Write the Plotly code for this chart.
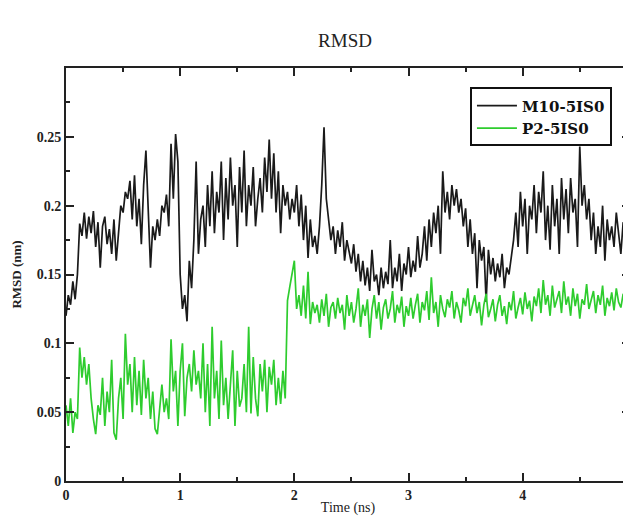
import plotly.graph_objects as go

dt = 0.02
m10_rmsd = [
    0.120, 0.135, 0.128, 0.145, 0.132, 0.150, 0.187, 0.178, 0.195, 0.176,
    0.192, 0.180, 0.196, 0.170, 0.188, 0.155, 0.185, 0.192, 0.172, 0.183,
    0.165, 0.190, 0.160, 0.178, 0.200, 0.195, 0.210, 0.205, 0.218, 0.190,
    0.222, 0.185, 0.205, 0.172, 0.215, 0.240, 0.200, 0.155, 0.185, 0.175,
    0.190, 0.178, 0.200, 0.195, 0.208, 0.185, 0.245, 0.205, 0.252, 0.232,
    0.150, 0.125, 0.135, 0.116, 0.160, 0.140, 0.175, 0.232, 0.165, 0.190,
    0.200, 0.170, 0.215, 0.185, 0.225, 0.180, 0.210, 0.195, 0.232, 0.175,
    0.220, 0.190, 0.235, 0.200, 0.215, 0.170, 0.228, 0.195, 0.240, 0.185,
    0.215, 0.200, 0.228, 0.185, 0.205, 0.220, 0.195, 0.235, 0.210, 0.248,
    0.205, 0.238, 0.195, 0.225, 0.180, 0.215, 0.200, 0.210, 0.190, 0.205,
    0.195, 0.215, 0.185, 0.208, 0.175, 0.200, 0.162, 0.190, 0.170, 0.178,
    0.165, 0.185, 0.215, 0.257, 0.205, 0.190, 0.175, 0.185, 0.165, 0.182,
    0.170, 0.188, 0.160, 0.175, 0.165, 0.158, 0.172, 0.152, 0.165, 0.145,
    0.160, 0.142, 0.155, 0.138, 0.168, 0.145, 0.150, 0.135, 0.155, 0.140,
    0.152, 0.143, 0.175, 0.140, 0.155, 0.145, 0.165, 0.138, 0.158, 0.150,
    0.170, 0.148, 0.160, 0.152, 0.178, 0.155, 0.165, 0.185, 0.160, 0.190,
    0.170, 0.195, 0.180, 0.200, 0.165, 0.225, 0.195, 0.210, 0.190, 0.215,
    0.200, 0.212, 0.195, 0.205, 0.185, 0.198, 0.170, 0.190, 0.165, 0.180,
    0.140, 0.175, 0.160, 0.170, 0.130, 0.168, 0.150, 0.162, 0.145, 0.158,
    0.148, 0.165, 0.140, 0.155, 0.150, 0.162, 0.175, 0.195, 0.170, 0.210,
    0.185, 0.205, 0.165, 0.200, 0.190, 0.215, 0.180, 0.210, 0.195, 0.225,
    0.175, 0.200, 0.168, 0.215, 0.185, 0.205, 0.165, 0.220, 0.190, 0.212,
    0.180, 0.220, 0.195, 0.205, 0.170, 0.243, 0.200, 0.215, 0.190, 0.205,
    0.175, 0.195, 0.165, 0.185, 0.170, 0.200, 0.160, 0.190, 0.175, 0.185,
    0.170, 0.195, 0.178, 0.165, 0.188, 0.175, 0.190, 0.170, 0.182, 0.178,
]
p2_rmsd = [
    0.055, 0.040, 0.060, 0.035, 0.050, 0.045, 0.097, 0.075, 0.090, 0.070,
    0.085, 0.060, 0.045, 0.034, 0.055, 0.048, 0.075, 0.040, 0.065, 0.050,
    0.088, 0.035, 0.030, 0.060, 0.075, 0.045, 0.107, 0.070, 0.085, 0.050,
    0.090, 0.055, 0.080, 0.048, 0.088, 0.060, 0.075, 0.045, 0.065, 0.038,
    0.034, 0.055, 0.070, 0.050, 0.060, 0.045, 0.103, 0.065, 0.080, 0.040,
    0.080, 0.100, 0.047, 0.075, 0.085, 0.065, 0.095, 0.070, 0.080, 0.060,
    0.100, 0.050, 0.085, 0.040, 0.112, 0.060, 0.080, 0.045, 0.102, 0.055,
    0.075, 0.045, 0.070, 0.095, 0.040, 0.080, 0.054, 0.060, 0.085, 0.050,
    0.112, 0.049, 0.090, 0.060, 0.047, 0.085, 0.065, 0.088, 0.050, 0.083,
    0.070, 0.088, 0.055, 0.075, 0.056, 0.080, 0.060, 0.131, 0.141, 0.150,
    0.160, 0.125, 0.135, 0.120, 0.142, 0.118, 0.152, 0.114, 0.130, 0.122,
    0.128, 0.115, 0.132, 0.120, 0.136, 0.112, 0.126, 0.130, 0.118, 0.133,
    0.122, 0.128, 0.110, 0.135, 0.120, 0.130, 0.115, 0.125, 0.140, 0.112,
    0.128, 0.120, 0.132, 0.104, 0.125, 0.135, 0.118, 0.130, 0.110, 0.126,
    0.132, 0.118, 0.125, 0.138, 0.115, 0.128, 0.122, 0.134, 0.112, 0.127,
    0.120, 0.133, 0.118, 0.128, 0.136, 0.115, 0.130, 0.124, 0.138, 0.117,
    0.148, 0.122, 0.130, 0.112, 0.135, 0.125, 0.119, 0.132, 0.126, 0.138,
    0.118, 0.130, 0.124, 0.115, 0.133, 0.127, 0.140, 0.120, 0.128, 0.135,
    0.122, 0.130, 0.113, 0.128, 0.136, 0.119, 0.125, 0.132, 0.116, 0.128,
    0.135, 0.120, 0.127, 0.114, 0.130, 0.124, 0.138, 0.118, 0.126, 0.133,
    0.121, 0.137, 0.125, 0.131, 0.116, 0.134, 0.127, 0.140, 0.122, 0.146,
    0.128, 0.135, 0.120, 0.142, 0.126, 0.132, 0.138, 0.122, 0.145, 0.128,
    0.134, 0.120, 0.140, 0.127, 0.136, 0.118, 0.132, 0.128, 0.143, 0.125,
    0.131, 0.138, 0.122, 0.135, 0.128, 0.142, 0.120, 0.133, 0.127, 0.137,
    0.124, 0.140, 0.130, 0.126, 0.136, 0.128, 0.118, 0.135, 0.098, 0.110,
]
time_m10 = [round(i * dt, 3) for i in range(len(m10_rmsd))]
time_p2 = [round(i * dt, 3) for i in range(len(p2_rmsd))]

x_ticks = [0, 1, 2, 3, 4]
y_ticks = [0, 0.05, 0.1, 0.15, 0.2, 0.25]
y_tick_text = ["0", "0.05", "0.1", "0.15", "0.2", "0.25"]

serif = "Liberation Serif, Times New Roman, serif"
wide_serif = "DejaVu Serif, serif"

fig = go.Figure()
fig.add_trace(go.Scatter(x=time_m10, y=m10_rmsd, mode="lines", name="M10-5IS0",
                         line=dict(color="#1a1a1a", width=1.7)))
fig.add_trace(go.Scatter(x=time_p2, y=p2_rmsd, mode="lines", name="P2-5IS0",
                         line=dict(color="#2ecc2e", width=1.7)))

fig.update_layout(
    width=623, height=508,
    margin=dict(l=58, r=1, t=60, b=35, autoexpand=False),
    paper_bgcolor="white", plot_bgcolor="white",
    title=dict(text="RMSD", x=0.541, xanchor="center", xref="container",
               y=0.937, yanchor="middle", yref="container",
               font=dict(family=serif, size=19, color="#222")),
    font=dict(family=serif, color="#222"),
    showlegend=True,
    legend=dict(x=0.968, y=0.953, xanchor="right", yanchor="top",
                bgcolor="white", bordercolor="#111", borderwidth=2,
                font=dict(family=wide_serif, size=15, color="#111", weight="bold"),
                tracegroupgap=0, itemwidth=40),
)
fig.update_xaxes(
    range=[0, 4.94], tickvals=x_ticks, ticktext=[str(v) for v in x_ticks],
    ticks="inside", ticklen=8, tickwidth=2, tickcolor="#222",
    showline=True, linecolor="#222", linewidth=2, mirror="allticks",
    showgrid=False, zeroline=False, automargin=False,
    minor=dict(ticks="inside", dtick=0.5, ticklen=4, tickwidth=1.5, tickcolor="#222", showgrid=False),
    tickfont=dict(family=serif, size=14, color="#222", weight="bold"),
    title=dict(text="Time (ns)", font=dict(family=serif, size=14, color="#222"), standoff=0),
)
fig.update_yaxes(
    range=[0, 0.3], tickvals=y_ticks, ticktext=y_tick_text,
    ticks="inside", ticklen=8, tickwidth=2, tickcolor="#222",
    showline=True, linecolor="#222", linewidth=2, mirror="allticks",
    showgrid=False, zeroline=False, automargin=False,
    minor=dict(ticks="inside", dtick=0.025, ticklen=4, tickwidth=1.5, tickcolor="#222", showgrid=False),
    tickfont=dict(family=serif, size=14, color="#222", weight="bold"),
    title=dict(text="RMSD (nm)", font=dict(family=serif, size=13, color="#222", weight="bold"), standoff=12),
)

fig.write_html("out.html")
